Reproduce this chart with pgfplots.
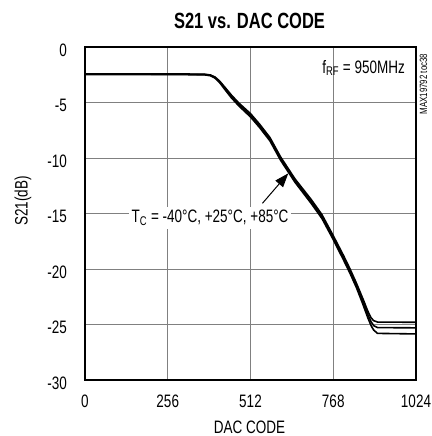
\documentclass[border=0pt]{standalone}
\usepackage{fontspec}
\setmainfont{Liberation Sans}[FakeStretch=0.75]
\usepackage{pgfplots}
\pgfplotsset{compat=1.18}
\usetikzlibrary{arrows.meta}
\begin{document}
\fontsize{18}{21}\selectfont
\begin{tikzpicture}[x=1pt,y=1pt]
\begin{axis}[
  at={(0,0)}, anchor=south west,
  scale only axis, width=331pt, height=333pt,
  xmin=0, xmax=1024, ymin=-30, ymax=0,
  xtick={0,256,512,768,1024},
  xticklabels={0,256,512,768,1024},
  ytick={-30,-25,-20,-15,-10,-5,0},
  yticklabels={-30,-25,-20,-15,-10,-5,0},
  /pgf/number format/assume math mode=true,
  major tick length=0pt,
  grid=major,
  grid style={line width=0.8pt, color=black!50},
  axis line style={line width=2.8pt, black},
  yticklabel style={anchor=east, inner sep=0pt, xshift=-18pt, yshift=-3pt},
  xticklabel style={anchor=north, inner sep=0pt, yshift=-15pt},
  clip=true,
]
\addplot[black, line width=1.6pt, line join=round] coordinates {
(0,-2.42) (100,-2.42) (200,-2.42) (300,-2.43) (370,-2.45) (388,-2.52) (402,-2.7) (416,-3.05) (432,-3.6) (452,-4.3) (476,-5.05) (512,-6.0) (540,-6.95) (572,-8.15) (605,-9.9) (650,-11.9) (700,-13.75) (733,-15.1) (768,-17.0) (800,-18.8) (820,-20.0) (840,-21.3) (860,-22.7) (875,-23.8) (885,-24.4) (893,-24.65) (905,-24.78) (1024,-24.8)
};
\addplot[black, line width=1.6pt, line join=round] coordinates {
(0,-2.45) (100,-2.45) (200,-2.45) (300,-2.46) (370,-2.48) (388,-2.55) (402,-2.75) (416,-3.12) (432,-3.7) (452,-4.43) (476,-5.18) (512,-6.15) (540,-7.1) (572,-8.3) (605,-10.05) (650,-12.05) (700,-13.93) (733,-15.27) (768,-17.18) (800,-19.0) (820,-20.2) (840,-21.5) (860,-22.95) (875,-24.1) (885,-24.75) (893,-25.1) (905,-25.28) (1024,-25.3)
};
\addplot[black, line width=1.6pt, line join=round] coordinates {
(0,-2.48) (100,-2.48) (200,-2.48) (300,-2.49) (370,-2.51) (388,-2.59) (402,-2.8) (416,-3.19) (432,-3.8) (452,-4.55) (476,-5.31) (512,-6.3) (540,-7.25) (572,-8.45) (605,-10.2) (650,-12.2) (700,-14.1) (733,-15.45) (768,-17.35) (800,-19.2) (820,-20.4) (840,-21.7) (860,-23.2) (875,-24.4) (885,-25.1) (893,-25.5) (905,-25.8) (1024,-25.85)
};
\node[anchor=east, inner sep=0pt] at (axis cs:990,-1.9) {f\textsubscript{RF} = 950MHz};
\node[fill=white, inner sep=3pt] at (axis cs:387,-15.4) {T\textsubscript{C} = -40°C, +25°C, +85°C};
\draw[line width=1pt, -{Triangle[length=14pt,width=10pt]}] (axis cs:549,-14.08) -- (axis cs:629,-11.38);
\end{axis}
\node[font=\fontsize{22}{25}\selectfont\bfseries] at (164.5,359.5) {S21 vs. DAC CODE};
\node[rotate=90] at (-62,179) {S21(dB)};
\node at (164.5,-47) {DAC CODE};
\node[rotate=90, font=\fontsize{10.5}{12}\selectfont] at (338.5,296) {MAX19792 toc38};
\pgfresetboundingbox
\path[use as bounding box] (-85,-56) rectangle (346,380);
\end{tikzpicture}
\end{document}
